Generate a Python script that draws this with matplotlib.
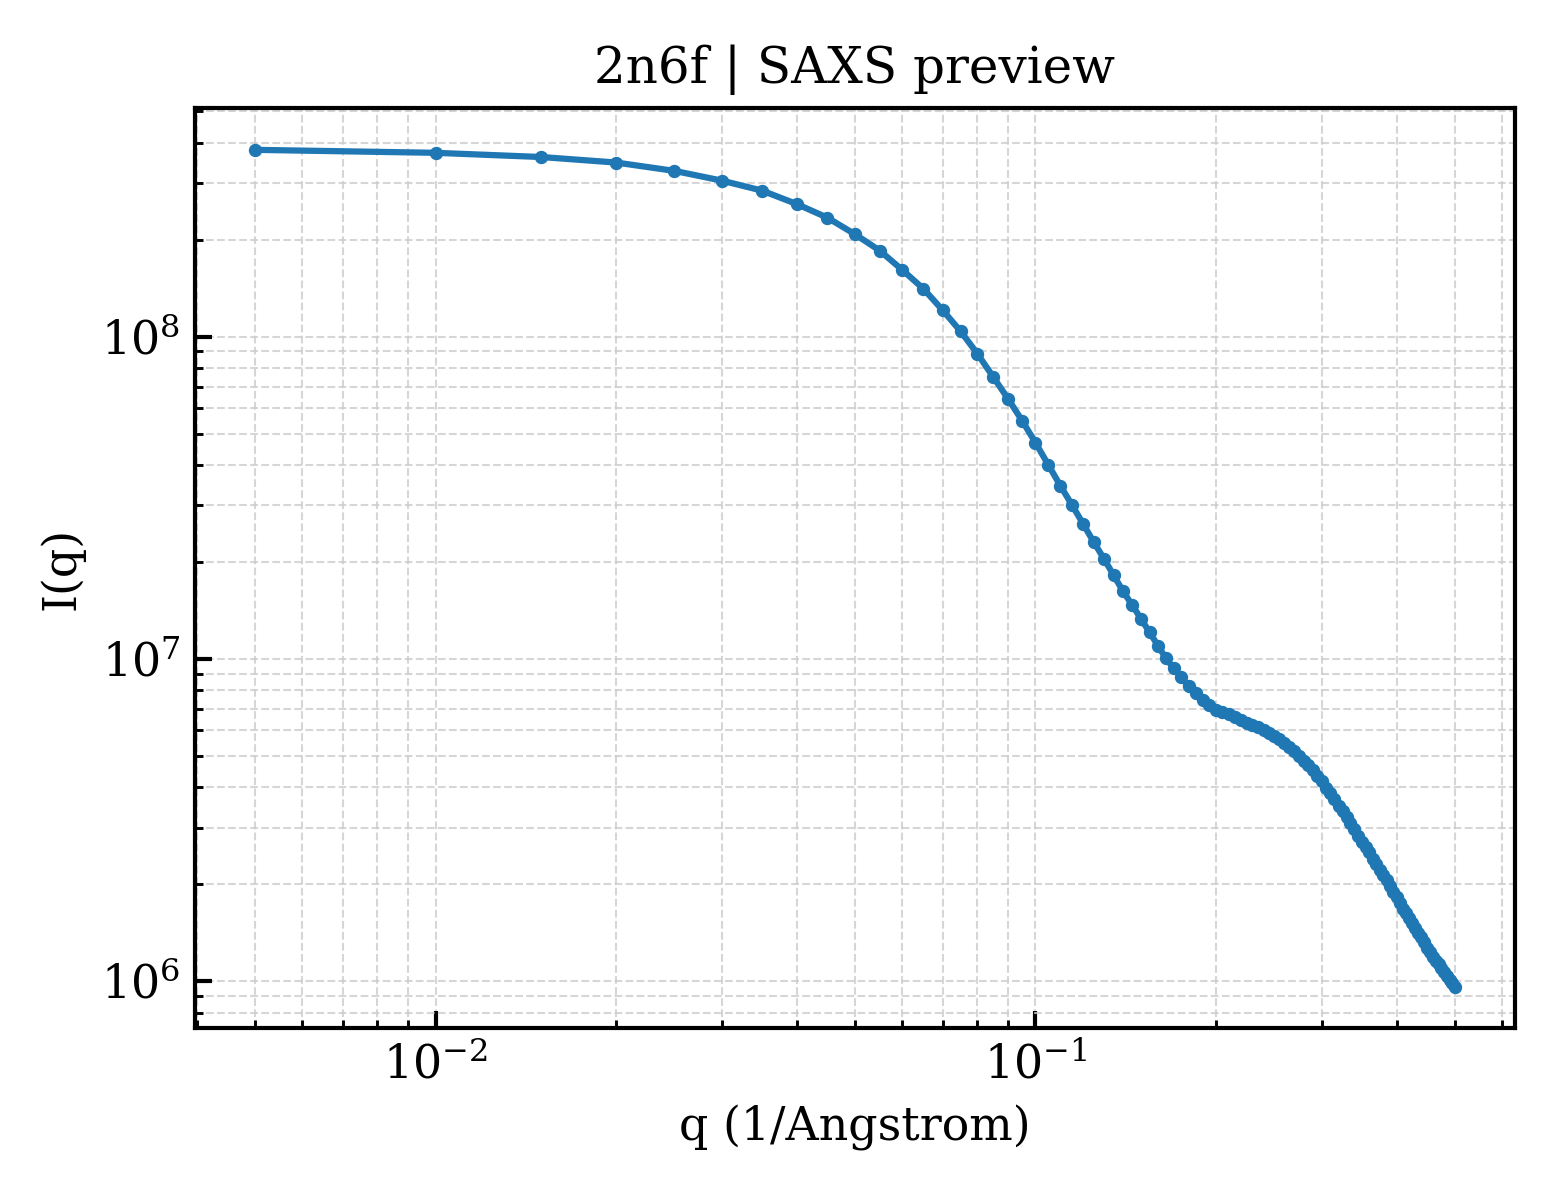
import matplotlib
matplotlib.use("Agg")
import matplotlib.pyplot as plt

plt.rcParams['font.family'] = 'DejaVu Serif'
plt.rcParams['mathtext.fontset'] = 'dejavuserif'

q = [0.005, 0.01, 0.015, 0.02, 0.025, 0.03, 0.035, 0.04, 0.045, 0.05,
     0.055, 0.06, 0.065, 0.07, 0.075, 0.08, 0.085, 0.09, 0.095, 0.1,
     0.105, 0.11, 0.115, 0.12, 0.125, 0.13, 0.135, 0.14, 0.145, 0.15,
     0.155, 0.16, 0.165, 0.17, 0.175, 0.18, 0.185, 0.19, 0.195, 0.2,
     0.205, 0.21, 0.215, 0.22, 0.225, 0.23, 0.235, 0.24, 0.245, 0.25,
     0.255, 0.26, 0.265, 0.27, 0.275, 0.28, 0.285, 0.29, 0.295, 0.3,
     0.305, 0.31, 0.315, 0.32, 0.325, 0.33, 0.335, 0.34, 0.345, 0.35,
     0.355, 0.36, 0.365, 0.37, 0.375, 0.38, 0.385, 0.39, 0.395, 0.4,
     0.405, 0.41, 0.415, 0.42, 0.425, 0.43, 0.435, 0.44, 0.445, 0.45,
     0.455, 0.46, 0.465, 0.47, 0.475, 0.48, 0.485, 0.49, 0.495, 0.5]

intensity = [3.80e8, 3.72e8, 3.61e8, 3.47e8, 3.27e8, 3.05e8, 2.84e8, 2.58e8, 2.34e8, 2.08e8,
             1.85e8, 1.61e8, 1.41e8, 1.21e8, 1.04e8, 8.86e7, 7.51e7, 6.42e7, 5.49e7, 4.69e7,
             4.01e7, 3.45e7, 3.01e7, 2.63e7, 2.31e7, 2.05e7, 1.82e7, 1.62e7, 1.47e7, 1.33e7,
             1.21e7, 1.10e7, 1.005e7, 9.35e6, 8.77e6, 8.22e6, 7.82e6, 7.44e6, 7.18e6, 6.97e6,
             6.87e6, 6.73e6, 6.63e6, 6.49e6, 6.35e6, 6.24e6, 6.13e6, 6.00e6, 5.90e6, 5.77e6,
             5.63e6, 5.49e6, 5.34e6, 5.17e6, 4.99e6, 4.81e6, 4.68e6, 4.51e6, 4.34e6, 4.17e6,
             3.99e6, 3.85e6, 3.69e6, 3.51e6, 3.37e6, 3.24e6, 3.10e6, 2.96e6, 2.83e6, 2.71e6,
             2.61e6, 2.51e6, 2.40e6, 2.31e6, 2.22e6, 2.14e6, 2.06e6, 1.97e6, 1.89e6, 1.82e6,
             1.75e6, 1.68e6, 1.63e6, 1.57e6, 1.52e6, 1.46e6, 1.41e6, 1.37e6, 1.32e6, 1.27e6,
             1.23e6, 1.19e6, 1.16e6, 1.13e6, 1.10e6, 1.07e6, 1.04e6, 1.01e6, 9.87e5, 9.63e5]

fig, ax = plt.subplots(figsize=(5.2, 4), dpi=300)
fig.subplots_adjust(left=0.125, right=0.971, bottom=0.143, top=0.91)

ax.plot(q, intensity, '-o', color='#1f77b4', lw=1.5, markersize=2.2)
ax.set_xscale('log')
ax.set_yscale('log')

ax.grid(True, which='both', linestyle='--', linewidth=0.5, color='#cccccc', alpha=0.8)
ax.tick_params(which='both', direction='in', top=False, right=False)
ax.tick_params(which='major', length=4, width=1)
ax.tick_params(which='minor', length=2, width=0.7)
for s in ax.spines.values():
    s.set_linewidth(1)

ax.set_title('2n6f | SAXS preview', fontsize=12)
ax.set_xlabel('q (1/Angstrom)', fontsize=11)
ax.set_ylabel('I(q)', fontsize=11)
ax.tick_params(labelsize=11)

fig.savefig('out.png', dpi=300)
